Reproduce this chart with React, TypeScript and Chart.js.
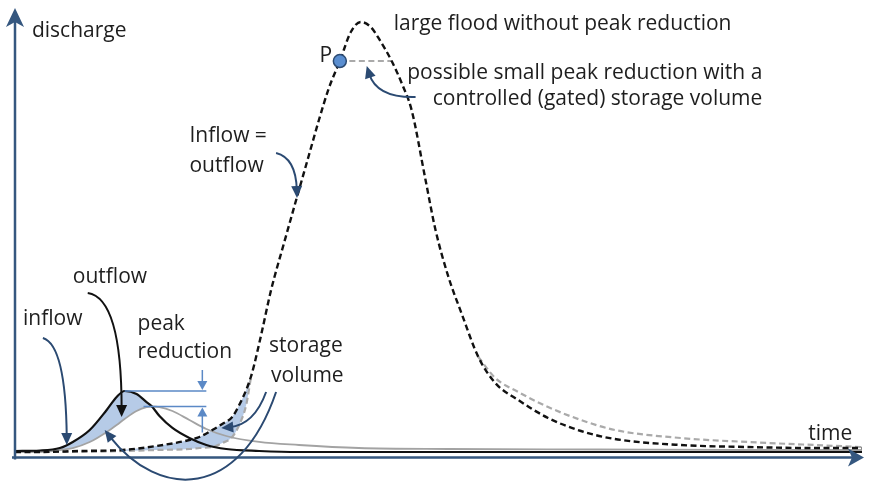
import React, { useEffect, useRef } from "react";
import { Chart, registerables } from "chart.js";

Chart.register(...registerables);

// ---- data (time in arbitrary units, discharge in % of large-flood peak scale) ----
const largeTime = [
  0, 2.5, 6.5, 10.8, 14.2, 17.5, 18.5, 19.8, 20.8, 21.8, 22.5, 23.2, 23.7, 24.0, 24.7, 25.7, 27.0,
  28.3, 29.5, 30.5, 31.5, 32.6, 33.7, 34.7, 35.7, 36.6, 37.8, 38.8, 39.8, 41.2, 42.2, 43.5, 44.8,
  46.5, 48.2, 50.5, 53.5, 56.8, 60.2, 66.8, 73.5, 80.2, 85.0,
];
// large flood without peak reduction (inflow = outflow)
const largeInflow = [
  1.33, 1.33, 1.56, 1.78, 2.67, 4.0, 4.67, 6.22, 7.56, 9.11, 11.78, 15.11, 18.22, 20.67, 27.33,
  37.33, 47.78, 58.0, 67.33, 75.11, 82.22, 88.22, 94.67, 96.89, 95.78, 92.89, 88.22, 83.33, 77.33,
  61.78, 50.67, 40.22, 32.22, 22.44, 16.67, 12.89, 8.89, 6.0, 4.22, 2.89, 2.44, 2.22, 2.22,
];
// controlled (gated) storage: only where it differs from the inflow
const largeOutflow = [
  1.33, 1.33, 1.33, 1.56, 1.78, 2.0, 2.22, 2.44, 3.33, 4.67, 7.33, 11.78, 18.22, null, null, null,
  null, null, null, null, null, 88.22, 88.22, 88.22, 88.22, 88.22, 88.22, null, null, null, null,
  null, null, 22.44, 17.78, 14.67, 11.33, 8.44, 6.22, 4.44, 3.56, 2.89, 2.44,
];

const smallTime = [
  0, 2.5, 4.5, 5.8, 7.5, 9.2, 10.2, 11.0, 12.2, 13.2, 13.7, 14.5, 15.8, 17.5, 19.2, 21.2, 24.5,
  28.5, 34.5, 43.5, 58.5, 73.5, 85.0,
];
const smallInflow = [
  1.56, 1.67, 2.22, 3.56, 6.22, 10.67, 13.56, 14.89, 14.22, 12.44, 11.56, 9.33, 6.67, 4.44, 2.89,
  2.0, 1.56, 1.33, 1.33, 1.33, 1.33, 1.33, 1.33,
];
const smallOutflow = [
  1.33, 1.33, 1.78, 2.22, 3.56, 5.78, 7.33, 8.67, 10.44, 11.33, 11.44, 11.33, 10.44, 8.44, 6.44,
  4.89, 3.56, 2.89, 2.22, 2.0, 1.89, 1.78, 1.78,
];

// index ranges of the shaded storage volumes
const smallStorageRange = [1, 10];
const largeStorageRange = [3, 12];
const pointPIndex = 21;
const peakMarkEnd = 18.8;

const labels = [
  { text: "discharge", t: 1.7, q: 93.56, align: "left" },
  { text: "large flood without peak reduction", t: 38.0, q: 95.11, align: "left" },
  { text: "P", t: 31.2, q: 88.0, align: "center" },
  { text: "possible small peak reduction with a", t: 75.0, q: 84.22, align: "right" },
  { text: "controlled (gated) storage volume", t: 75.0, q: 78.44, align: "right" },
  { text: "Inflow =", t: 17.5, q: 70.22, align: "left" },
  { text: "outflow", t: 17.5, q: 63.56, align: "left" },
  { text: "outflow", t: 5.8, q: 38.89, align: "left" },
  { text: "inflow", t: 0.8, q: 29.56, align: "left" },
  { text: "peak", t: 12.3, q: 28.44, align: "left" },
  { text: "reduction", t: 12.3, q: 22.22, align: "left" },
  { text: "storage", t: 25.5, q: 23.56, align: "left" },
  { text: "volume", t: 25.7, q: 16.89, align: "left" },
  { text: "time", t: 79.6, q: 4.0, align: "left" },
];

const NAVY = "#2b4a72";
const arrows = [
  { pts: [[2.8, 26.67], [5.1, 25.11], [5.2, 2.89]], color: NAVY },
  { pts: [[7.3, 36.67], [10.7, 35.56], [10.7, 9.11]], color: "#111" },
  { pts: [[25.2, 14.67], [24.0, 7.33], [20.7, 6.67]], color: NAVY },
  { pts: [[26.2, 14.67], [22.5, -9.33], [14.5, -9.33], [9.0, 6.22]], color: NAVY },
  { pts: [[26.2, 67.78], [28.2, 66.67], [28.3, 57.78]], color: NAVY },
  { pts: [[40.2, 80.22], [36.3, 80.0], [35.3, 87.1]], color: NAVY },
];

const FONT = "21px 'Open Sans', Lato, sans-serif";

function pairs(xs: number[], ys: (number | null)[], from = 0, to = xs.length - 1) {
  const out: { x: number; y: number | null }[] = [];
  for (let i = from; i <= to; i++) out.push({ x: xs[i], y: ys[i] });
  return out;
}

function argMax(ys: number[]) {
  let k = 0;
  ys.forEach((v, i) => {
    if (v > ys[k]) k = i;
  });
  return k;
}

const decorPlugin = {
  id: "decor",
  afterDatasetsDraw(chart: any) {
    const { ctx, chartArea, scales } = chart;
    const X = (t: number) => scales.x.getPixelForValue(t);
    const Y = (q: number) => scales.y.getPixelForValue(q);
    ctx.save();

    // axes with arrow heads
    const axisColor = "#35577f";
    ctx.strokeStyle = axisColor;
    ctx.fillStyle = axisColor;
    ctx.lineWidth = 2.5;
    const x0 = chartArea.left;
    const y0 = chartArea.bottom - 0.5;
    ctx.beginPath();
    ctx.moveTo(x0, y0 + 2);
    ctx.lineTo(x0, chartArea.top + 10);
    ctx.moveTo(x0 - 3, y0);
    ctx.lineTo(chartArea.right - 8, y0);
    ctx.stroke();
    // up head
    ctx.beginPath();
    ctx.moveTo(x0, chartArea.top);
    ctx.lineTo(x0 - 9, chartArea.top + 19);
    ctx.lineTo(x0, chartArea.top + 14);
    ctx.lineTo(x0 + 9, chartArea.top + 19);
    ctx.closePath();
    ctx.fill();
    // right head
    const xr = chartArea.right + 2;
    ctx.beginPath();
    ctx.moveTo(xr, y0);
    ctx.lineTo(xr - 16, y0 - 9);
    ctx.lineTo(xr - 12, y0);
    ctx.lineTo(xr - 16, y0 + 9);
    ctx.closePath();
    ctx.fill();

    // peak-reduction marks
    const iIn = argMax(smallInflow);
    const iOut = argMax(smallOutflow);
    const peakBlue = "#5b89c6";
    ctx.strokeStyle = peakBlue;
    ctx.fillStyle = peakBlue;
    ctx.lineWidth = 1.5;
    const yTop = Y(smallInflow[iIn]);
    const yBot = Y(smallOutflow[iOut]);
    const xm = X(peakMarkEnd);
    ctx.beginPath();
    ctx.moveTo(X(smallTime[iIn]), yTop);
    ctx.lineTo(xm + 4, yTop);
    ctx.moveTo(X(smallTime[iOut]) - 8, yBot);
    ctx.lineTo(xm + 4, yBot);
    ctx.moveTo(xm, yTop - 21);
    ctx.lineTo(xm, yTop - 6);
    ctx.moveTo(xm, yBot + 26);
    ctx.lineTo(xm, yBot + 6);
    ctx.stroke();
    const head = (x: number, y: number, dx: number, dy: number, len: number, w: number) => {
      const n = Math.hypot(dx, dy) || 1;
      const ux = dx / n, uy = dy / n;
      ctx.beginPath();
      ctx.moveTo(x, y);
      ctx.lineTo(x - ux * len - uy * w, y - uy * len + ux * w);
      ctx.lineTo(x - ux * len + uy * w, y - uy * len - ux * w);
      ctx.closePath();
      ctx.fill();
    };
    head(xm, yTop - 1, 0, 1, 9, 5);
    head(xm, yBot + 1, 0, -1, 9, 5);

    // curved arrows
    ctx.lineWidth = 2;
    for (const a of arrows) {
      const p = a.pts.map(([t, q]) => [X(t), Y(q)]);
      ctx.strokeStyle = a.color;
      ctx.fillStyle = a.color;
      const last = p[p.length - 1];
      const prev = p[p.length - 2];
      const dx = last[0] - prev[0], dy = last[1] - prev[1];
      const n = Math.hypot(dx, dy) || 1;
      const endX = last[0] - (dx / n) * 8, endY = last[1] - (dy / n) * 8;
      ctx.beginPath();
      ctx.moveTo(p[0][0], p[0][1]);
      if (p.length === 3) ctx.quadraticCurveTo(p[1][0], p[1][1], endX, endY);
      else ctx.bezierCurveTo(p[1][0], p[1][1], p[2][0], p[2][1], endX, endY);
      ctx.stroke();
      head(last[0], last[1], dx, dy, 12, 5.5);
    }

    // texts
    ctx.font = FONT;
    ctx.fillStyle = "#1e1e1e";
    ctx.textBaseline = "alphabetic";
    for (const l of labels) {
      ctx.textAlign = l.align as CanvasTextAlign;
      ctx.fillText(l.text, X(l.t), Y(l.q));
    }
    ctx.restore();
  },
};

export default function App() {
  const ref = useRef<HTMLCanvasElement | null>(null);
  useEffect(() => {
    if (!ref.current) return;
    const base = {
      pointRadius: 0,
      cubicInterpolationMode: "monotone",
      fill: false,
    };
    const chart = new Chart(ref.current, {
      type: "line",
      data: {
        datasets: [
          {
            ...base,
            data: [{ x: largeTime[pointPIndex], y: largeInflow[pointPIndex] }],
            showLine: false,
            pointRadius: 6.5,
            pointBackgroundColor: "#5a8ed0",
            pointBorderColor: "#2b4a72",
            pointBorderWidth: 1.5,
            order: 0,
          },
          {
            ...base,
            data: pairs(largeTime, largeInflow),
            borderColor: "#111",
            borderWidth: 2.4,
            borderDash: [6, 3.5],
            order: 1,
          },
          {
            ...base,
            data: pairs(smallTime, smallInflow),
            borderColor: "#111",
            borderWidth: 2.2,
            order: 2,
          },
          {
            ...base,
            data: pairs(smallTime, smallOutflow),
            borderColor: "#a3a3a3",
            borderWidth: 1.8,
            order: 3,
          },
          {
            ...base,
            data: pairs(largeTime, largeOutflow),
            borderColor: "#aaaaaa",
            borderWidth: 2.2,
            borderDash: [6, 3.5],
            order: 4,
          },
          {
            ...base,
            data: pairs(smallTime, smallInflow, smallStorageRange[0], smallStorageRange[1]),
            borderWidth: 0,
            borderColor: "rgba(0,0,0,0)",
            backgroundColor: "#b6cbe7",
            fill: { target: 6 },
            order: 10,
          },
          {
            ...base,
            data: pairs(smallTime, smallOutflow, smallStorageRange[0], smallStorageRange[1]),
            borderWidth: 0,
            borderColor: "rgba(0,0,0,0)",
            order: 11,
          },
          {
            ...base,
            data: pairs(largeTime, largeInflow, largeStorageRange[0], largeStorageRange[1]),
            borderWidth: 0,
            borderColor: "rgba(0,0,0,0)",
            backgroundColor: "#b6cbe7",
            fill: { target: 8 },
            order: 10,
          },
          {
            ...base,
            data: pairs(largeTime, largeOutflow, largeStorageRange[0], largeStorageRange[1]),
            borderWidth: 0,
            borderColor: "rgba(0,0,0,0)",
            order: 11,
          },
        ] as any,
      },
      options: {
        animation: false,
        responsive: false,
        events: [],
        layout: { padding: { left: 15, right: 5, top: 8, bottom: 25 } },
        plugins: { legend: { display: false }, tooltip: { enabled: false } },
        scales: {
          x: { type: "linear", min: 0, max: 85, display: false },
          y: { type: "linear", min: 0, max: 100, display: false },
        },
      } as any,
      plugins: [decorPlugin],
    });
    return () => chart.destroy();
  }, []);
  return (
    <div style={{ position: "absolute", left: 0, top: 0, width: 870, height: 483, background: "#fff" }}>
      <canvas ref={ref} width={870} height={483} style={{ display: "block", width: 870, height: 483 }} />
    </div>
  );
}
